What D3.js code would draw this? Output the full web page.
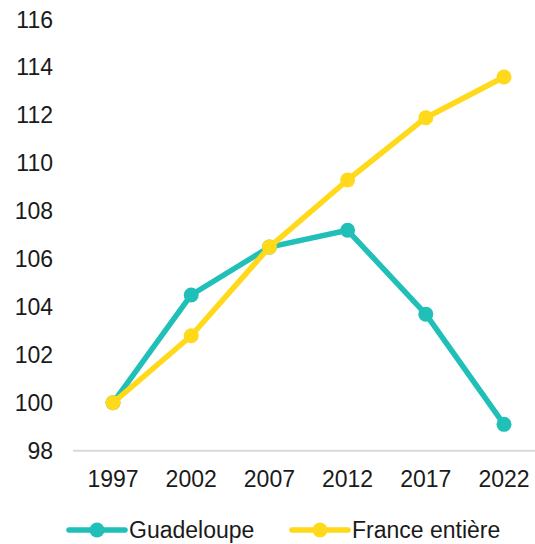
<!DOCTYPE html>
<html>
<head>
<meta charset="utf-8">
<script src="https://cdn.jsdelivr.net/npm/d3@7"></script>
<style>
  body { margin: 0; background: #fff; }
  text { font-family: "Liberation Sans", Arial, sans-serif; fill: #1a1a1a; }
</style>
</head>
<body>
<svg id="chart" width="535" height="544"></svg>
<script>
// Data
const years = ["1997", "2002", "2007", "2012", "2017", "2022"];
const guadeloupe = [100, 104.5, 106.5, 107.2, 103.7, 99.1];
const france = [100, 102.8, 106.5, 109.3, 111.9, 113.6];
const yTicks = [98, 100, 102, 104, 106, 108, 110, 112, 114, 116];

const series = [
  {name: "Guadeloupe", values: guadeloupe, color: "#20c0b8"},
  {name: "France entière", values: france, color: "#ffd91a"}
];

const svg = d3.select("#chart");

// Scales
const x = d3.scalePoint()
  .domain(years)
  .range([113, 504]);

const y = d3.scaleLinear()
  .domain([98, 116])
  .range([450.7, 19.5]);

// y tick labels (no axis line in the original)
svg.append("g")
  .selectAll("text")
  .data(yTicks)
  .enter()
  .append("text")
  .attr("x", 53)
  .attr("y", d => y(d))
  .attr("dy", "0.35em")
  .attr("text-anchor", "end")
  .style("font-size", "23px")
  .text(d => d);

// x axis baseline
svg.append("line")
  .attr("x1", 73)
  .attr("x2", 535)
  .attr("y1", y(98))
  .attr("y2", y(98))
  .style("stroke", "#d9d9d9")
  .style("stroke-width", 2);

// x tick labels
svg.append("g")
  .selectAll("text")
  .data(years)
  .enter()
  .append("text")
  .attr("x", d => x(d))
  .attr("y", 479)
  .attr("dy", "0.35em")
  .attr("text-anchor", "middle")
  .style("font-size", "23px")
  .text(d => d);

// Lines and markers
const line = d3.line()
  .x((d, i) => x(years[i]))
  .y(d => y(d));

series.forEach(s => {
  const g = svg.append("g");

  g.append("path")
    .datum(s.values)
    .attr("d", line)
    .style("fill", "none")
    .style("stroke", s.color)
    .style("stroke-width", 5.5)
    .style("stroke-linejoin", "round");

  g.selectAll("circle")
    .data(s.values)
    .enter()
    .append("circle")
    .attr("cx", (d, i) => x(years[i]))
    .attr("cy", d => y(d))
    .attr("r", 7.5)
    .style("fill", s.color);
});

// Legend
const legendX = [69, 292];
const legend = svg.append("g")
  .selectAll("g")
  .data(series)
  .enter()
  .append("g")
  .attr("transform", (d, i) => `translate(${legendX[i]}, 530)`);

legend.append("line")
  .attr("x1", 0)
  .attr("x2", 56)
  .style("stroke", d => d.color)
  .style("stroke-width", 5.5)
  .style("stroke-linecap", "round");

legend.append("circle")
  .attr("cx", 28)
  .attr("r", 7.5)
  .style("fill", d => d.color);

legend.append("text")
  .attr("x", 60)
  .attr("dy", "0.35em")
  .style("font-size", "23px")
  .text(d => d.name);
</script>
</body>
</html>
